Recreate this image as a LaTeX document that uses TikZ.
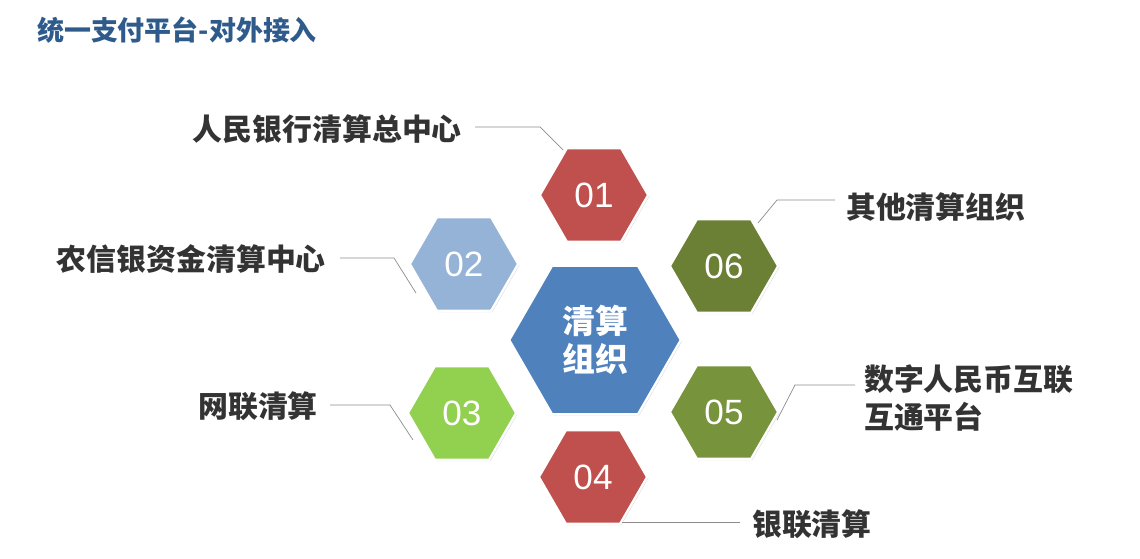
\documentclass[tikz,border=0pt]{standalone}
\usepackage{fontspec}
\setmainfont{Noto Sans CJK SC}
\newfontfamily\numfont{Liberation Sans}
\usetikzlibrary{positioning,shapes.geometric,shadows}
\definecolor{titleblue}{HTML}{2E5B8C}
\definecolor{hexred}{HTML}{C0504D}
\definecolor{hexlblue}{HTML}{95B3D7}
\definecolor{hexlgreen}{HTML}{92D050}
\definecolor{hexolive}{HTML}{77933C}
\definecolor{hexdark}{HTML}{6B7F35}
\definecolor{hexblue}{HTML}{4F81BD}

\begin{document}
\begin{tikzpicture}[
			x=0.03cm, y=-0.03cm,
			hexNode/.style = {
				regular polygon, regular polygon sides=6, minimum size=3.25cm,
				draw=white, line width=2pt, inner sep=0pt,
				drop shadow={opacity=0.35, shadow xshift=1pt, shadow yshift=-1pt},
				text=white, font=\numfont\fontsize{30}{30}\selectfont},
			midNode/.style = {
				hexNode, minimum size=5.15cm,
				font=\bfseries\fontsize{28}{32}\selectfont, align=center},
			rLabel/.style = {
				font=\bfseries\fontsize{25.5}{32}\selectfont, text=black!80,
				inner sep=0pt, align=left},
			lead/.style = {draw=black!45, line width=0.6pt}
		]
			\useasboundingbox (0,0) rectangle (1140,559);
			\node (title) [anchor=west, font=\bfseries\fontsize{23}{26}\selectfont, text=titleblue] at (33,30) {统一支付平台-对外接入};
			% hexagons
			\node (hc) [midNode, fill=hexblue] at (595,340) {清算\\组织};
			\node (h1) [hexNode, fill=hexred] at (594,195) {01};
			\node (h2) [hexNode, fill=hexlblue] at (464,264) {02};
			\node (h3) [hexNode, fill=hexlgreen] at (462,413) {03};
			\node (h4) [hexNode, fill=hexred] at (593,477) {04};
			\node (h5) [hexNode, fill=hexolive] at (724,412) {05};
			\node (h6) [hexNode, fill=hexdark] at (724,266) {06};
			% labels
			\node (l1) [rLabel, anchor=east] at (462,129) {人民银行清算总中心};
			\node (l2) [rLabel, anchor=east] at (326,259) {农信银资金清算中心};
			\node (l3) [rLabel, anchor=east] at (318,406) {网联清算};
			\node (l4) [rLabel, anchor=west] at (752,524) {银联清算};
			\node (l5) [rLabel, anchor=west] at (864,398) {数字人民币互联\\互通平台};
			\node (l6) [rLabel, anchor=west] at (846,207) {其他清算组织};
			% leader lines
			\coordinate (e1) at (563,150);
			\coordinate (e2) at (416,293);
			\coordinate (e3) at (413,440);
			\coordinate (e4) at (622,522);
			\coordinate (e5) at (777,420);
			\coordinate (e6) at (758,223);
			\draw[lead] (475,127) -- (540,127) -- (e1);
			\draw[lead] (340,258) -- (394,258) -- (e2);
			\draw[lead] (330,405) -- (390,405) -- (e3);
			\draw[lead] (e4) -- (740,522);
			\draw[lead] (e5) -- (795,385) -- (855,385);
			\draw[lead] (e6) -- (777,200) -- (835,200);
		\end{tikzpicture}
\end{document}
